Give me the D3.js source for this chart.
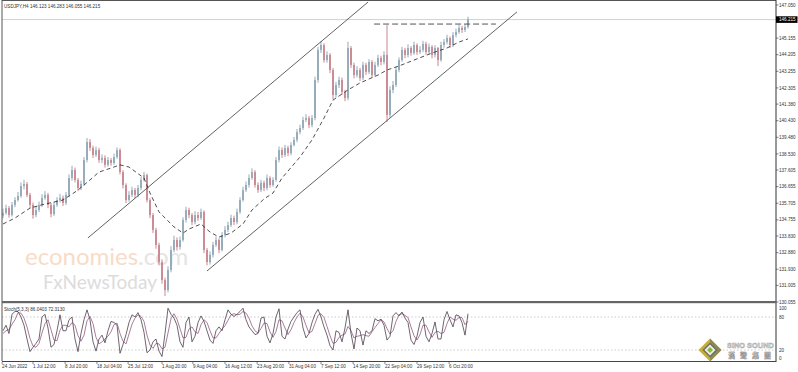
<!DOCTYPE html>
<html>
<head>
<meta charset="utf-8">
<script src="https://cdn.jsdelivr.net/npm/d3@7"></script>
<style>
body { margin: 0; background: #fff; }
svg { display: block; }
text { font-family: "Liberation Sans", Arial, sans-serif; }
</style>
</head>
<body>
<svg id="chart" width="798" height="372"></svg>
<script>
// USDJPY H4 - each candle here stands for a few H4 bars
var firstOpen = 135.00;
var closes = [
  135.15, 135.43, 135.03, 135.61, 135.89, 136.12, 136.69, 136.81, 136.18, 135.61,
  135.03, 135.32, 135.61, 136.01, 136.18, 135.61, 135.09, 135.61, 135.89, 136.01,
  135.72, 136.18, 137.15, 137.61, 137.04, 136.58, 136.81, 138.18, 139.21, 138.87,
  138.47, 138.75, 138.18, 138.30, 137.90, 138.18, 138.01, 138.35, 138.75, 137.49,
  136.75, 135.89, 136.18, 136.46, 136.18, 136.58, 137.04, 137.32, 135.89, 135.03,
  134.18, 133.32, 132.34, 131.31, 130.74, 131.89, 133.03, 133.60, 133.20, 133.60,
  134.75, 135.32, 135.03, 134.63, 135.03, 134.86, 135.21, 133.03, 132.34, 132.75,
  133.32, 133.60, 133.03, 133.89, 134.18, 134.46, 134.86, 134.63, 135.21, 135.89,
  136.46, 136.75, 137.15, 137.49, 136.75, 136.46, 136.87, 136.58, 137.15, 136.75,
  137.04, 138.18, 138.75, 138.47, 138.87, 138.58, 139.04, 139.33, 139.78, 140.01,
  140.47, 140.58, 140.18, 140.58, 142.76, 144.48, 144.76, 143.90, 144.19, 143.33,
  141.90, 142.47, 142.76, 142.07, 141.73, 144.59, 143.62, 143.04, 143.33, 142.87,
  143.62, 143.22, 143.79, 143.04, 143.62, 144.02, 143.79, 144.19, 140.76, 142.19,
  142.47, 143.33, 143.90, 144.48, 144.19, 144.59, 144.30, 144.76, 144.36, 144.48,
  144.82, 144.36, 144.65, 144.19, 144.59, 143.90, 144.76, 144.93, 145.16, 144.76,
  145.33, 145.51, 145.73, 145.62, 145.79, 146.22
];
var highs = [
  135.40, 135.62, 135.55, 135.78, 136.05, 136.35, 136.90, 137.05, 136.92, 136.30,
  135.75, 135.55, 135.80, 136.22, 136.40, 136.30, 135.72, 135.80, 136.05, 136.25,
  136.15, 136.35, 137.35, 137.85, 137.75, 137.15, 137.00, 138.35, 139.44, 139.38,
  139.00, 138.95, 138.88, 138.50, 138.45, 138.35, 138.30, 138.55, 138.90, 138.85,
  137.60, 136.85, 136.40, 136.65, 136.58, 136.75, 137.20, 137.50, 137.40, 136.00,
  135.15, 134.30, 133.45, 132.50, 131.45, 132.10, 133.25, 133.85, 133.75, 133.80,
  134.90, 135.50, 135.45, 135.15, 135.25, 135.20, 135.40, 135.30, 133.15, 132.95,
  133.50, 133.80, 133.70, 134.05, 134.40, 134.65, 135.05, 135.00, 135.40, 136.05,
  136.65, 136.95, 137.35, 137.70, 137.60, 136.90, 137.05, 137.00, 137.35, 137.25,
  137.20, 138.35, 138.95, 138.90, 139.05, 139.00, 139.20, 139.50, 139.95, 140.20,
  140.65, 140.80, 140.70, 140.75, 142.95, 144.65, 144.99, 144.85, 144.40, 144.30,
  143.45, 142.65, 142.95, 142.90, 142.20, 144.95, 144.70, 143.75, 143.55, 143.45,
  143.80, 143.75, 143.95, 143.90, 143.80, 144.20, 144.15, 144.40, 145.90, 142.40,
  142.70, 143.50, 144.05, 144.65, 144.60, 144.80, 144.70, 144.95, 144.85, 144.70,
  145.00, 144.95, 144.85, 144.75, 144.75, 144.65, 144.95, 145.10, 145.35, 145.25,
  145.50, 145.70, 145.90, 145.85, 145.95, 146.38
];
var lows = [
  134.85, 135.05, 134.88, 134.95, 135.48, 135.80, 136.02, 136.50, 136.05, 135.45,
  134.82, 134.90, 135.20, 135.50, 135.90, 135.42, 134.90, 134.98, 135.50, 135.75,
  135.55, 135.60, 136.05, 137.00, 136.90, 136.40, 136.45, 136.70, 138.05, 138.70,
  138.30, 138.35, 138.02, 138.00, 137.75, 137.80, 137.85, 137.90, 138.25, 137.35,
  136.55, 135.72, 135.80, 136.05, 136.00, 136.05, 136.45, 136.95, 135.75, 134.85,
  134.00, 133.10, 132.15, 131.10, 130.40, 130.60, 131.75, 132.90, 133.00, 133.05,
  133.50, 134.60, 134.85, 134.45, 134.50, 134.70, 134.75, 132.85, 132.15, 132.20,
  132.60, 133.20, 132.85, 132.95, 133.75, 134.05, 134.35, 134.45, 134.50, 135.10,
  135.80, 136.35, 136.60, 137.05, 136.60, 136.30, 136.35, 136.40, 136.45, 136.60,
  136.65, 136.95, 138.05, 138.30, 138.35, 138.40, 138.45, 138.95, 139.20, 139.65,
  139.90, 140.35, 140.00, 140.05, 140.45, 142.60, 144.30, 143.75, 143.75, 143.15,
  141.65, 141.75, 142.30, 141.90, 141.55, 141.60, 143.45, 142.85, 142.90, 142.70,
  142.75, 143.05, 143.10, 142.90, 142.95, 143.50, 143.60, 143.65, 140.36, 140.60,
  142.00, 142.35, 143.20, 143.80, 144.00, 144.05, 144.15, 144.20, 144.20, 144.25,
  144.35, 144.20, 144.25, 144.00, 144.05, 143.55, 143.80, 144.60, 144.80, 144.60,
  144.65, 145.20, 145.40, 145.45, 145.50, 145.70
];

// dashed moving average (candle index, price)
var maIdx = [0, 4, 9, 14, 20, 25, 29, 32, 36, 39, 42, 47, 49, 52, 57, 60, 62, 66, 69, 72,
  76, 80, 83, 87, 90, 93, 99, 103, 107, 110, 115, 119, 125, 128, 132, 137, 143, 148, 152, 155];
var maVals = [134.52, 134.86, 135.43, 135.66, 135.89, 136.46, 137.04, 137.49, 137.72, 137.90,
  137.78, 137.15, 136.29, 135.21, 134.35, 134.00, 134.23, 134.52, 134.06, 133.77,
  134.00, 134.52, 135.32, 135.95, 136.29, 137.15, 138.35, 139.33, 140.58, 141.61,
  142.19, 142.59, 143.04, 143.33, 143.56, 143.90, 144.30, 144.59, 144.93, 145.11];

// Stochastic(5,3,3)
var stochK = [
  55, 65, 50, 85, 90, 90, 80, 65, 40, 17,
  25, 32, 40, 80, 85, 60, 25, 30, 55, 84,
  55, 55, 75, 80, 40, 17, 50, 75, 93, 75,
  35, 18, 40, 47, 33, 55, 72, 70, 65, 14,
  30, 48, 70, 84, 80, 88, 75, 52, 15, 20,
  35, 40, 18, 8, 50, 96, 85, 78, 65, 35,
  25, 70, 80, 35, 45, 70, 82, 72, 55, 38,
  32, 55, 62, 55, 75, 93, 85, 81, 85, 90,
  96, 75, 62, 55, 48, 50, 78, 80, 45, 33,
  50, 80, 95, 45, 40, 58, 72, 80, 88, 93,
  60, 42, 50, 70, 85, 94, 80, 62, 47, 28,
  20, 55, 52, 35, 60, 93, 50, 22, 60, 55,
  29, 55, 50, 55, 77, 73, 76, 65, 38, 45,
  82, 88, 82, 89, 78, 70, 38, 30, 45, 70,
  80, 45, 35, 50, 71, 40, 40, 75, 90, 75,
  62, 84, 82, 70, 47, 86
];
var stochD = [
  50, 55, 57, 67, 75, 88, 87, 78, 62, 41,
  27, 25, 32, 51, 68, 75, 57, 38, 37, 56,
  65, 65, 62, 70, 65, 46, 36, 47, 73, 81,
  68, 43, 31, 35, 40, 45, 53, 66, 69, 50,
  36, 31, 49, 67, 78, 84, 81, 72, 47, 29,
  23, 32, 31, 22, 25, 51, 77, 86, 76, 59,
  42, 43, 58, 62, 53, 50, 66, 75, 70, 55,
  42, 42, 50, 58, 64, 74, 84, 86, 84, 85,
  90, 87, 78, 64, 55, 51, 59, 69, 68, 53,
  43, 54, 75, 73, 60, 48, 57, 70, 80, 87,
  80, 65, 51, 54, 68, 83, 86, 79, 63, 46,
  32, 34, 43, 47, 49, 63, 55, 42, 45, 46,
  48, 46, 45, 53, 61, 68, 75, 71, 59, 49,
  55, 72, 84, 86, 83, 79, 62, 46, 38, 48,
  65, 65, 53, 43, 52, 54, 50, 52, 68, 80,
  76, 74, 79, 79, 66, 72
];

// drawn objects: [candle index, price]
var channelUpper = [[28.3, 133.72], [121.7, 147.22]];
var channelLower = [[68.0, 131.83], [171.3, 146.65]];
var resistance = [[123.7, 145.96], [164.3, 145.96]];

var priceTicks = [147.050, 145.155, 144.205, 143.255, 142.305, 141.380, 140.430, 139.480,
  138.530, 137.605, 136.655, 135.705, 134.755, 133.830, 132.880, 131.930, 131.005, 130.055];
var lastPrice = 146.215;
var stochTicks = [100, 80, 20, 0];
var timeLabels = ['24 Jun 2022', '1 Jul 12:00', '8 Jul 20:00', '18 Jul 04:00', '25 Jul 12:00',
  '1 Aug 20:00', '9 Aug 04:00', '16 Aug 12:00', '23 Aug 20:00', '31 Aug 04:00', '7 Sep 12:00',
  '14 Sep 20:00', '22 Sep 04:00', '29 Sep 12:00', '6 Oct 20:00'];
var timeIdx = [-0.3, 10, 20.7, 31.3, 41.7, 53, 63.3, 74, 84.7, 95.3, 106, 116.7, 127.3, 138, 148.7];

var svg = d3.select('#chart');

// panel geometry
var left = 2, right = 776;
var mainTop = 1, mainBottom = 301, stTop = 303, stBottom = 361;

var xScale = d3.scaleLinear().domain([0, 155]).range([3, 468]);
var yScale = d3.scaleLinear().domain([130.055, 147.050]).range([302, 5]);
var sScale = d3.scaleLinear().domain([0, 100]).range([361, 306]);

var defs = svg.append('defs');
defs.append('clipPath').attr('id', 'mainClip')
  .append('rect').attr('x', left).attr('y', mainTop).attr('width', right - left).attr('height', mainBottom - mainTop);
defs.append('clipPath').attr('id', 'stClip')
  .append('rect').attr('x', left).attr('y', stTop).attr('width', right - left).attr('height', stBottom - stTop);

// watermark
var wm = svg.append('g').attr('class', 'watermark');
var t1 = wm.append('text').attr('x', 25).attr('y', 265)
  .style('font-size', '24px').style('font-family', 'Lato, "Liberation Sans", sans-serif');
t1.append('tspan').attr('fill', '#f7dcc8').text('economies');
t1.append('tspan').attr('fill', '#e4e4e4').text('.com');
wm.append('text').attr('x', 43).attr('y', 289)
  .style('font-size', '19px').style('font-family', 'Lato, "Liberation Sans", sans-serif')
  .attr('fill', '#dcdcdc').text('FxNewsToday');

// current price line
svg.append('line')
  .attr('x1', left).attr('x2', right)
  .attr('y1', yScale(lastPrice)).attr('y2', yScale(lastPrice))
  .attr('stroke', '#c9d3d8').attr('stroke-width', 1);

var mainG = svg.append('g').attr('clip-path', 'url(#mainClip)');

// candles
var candles = closes.map(function (c, i) {
  return { i: i, o: i === 0 ? firstOpen : closes[i - 1], h: highs[i], l: lows[i], c: c };
});
var bullColor = '#93a9b8', bearColor = '#c8878f';

mainG.selectAll('.wick')
  .data(candles)
  .enter()
  .append('line')
  .attr('class', 'wick')
  .attr('x1', function (d) { return xScale(d.i); })
  .attr('x2', function (d) { return xScale(d.i); })
  .attr('y1', function (d) { return yScale(d.h); })
  .attr('y2', function (d) { return yScale(d.l); })
  .attr('stroke', function (d) { return d.c >= d.o ? bullColor : bearColor; })
  .attr('stroke-width', 1);

mainG.selectAll('.body')
  .data(candles)
  .enter()
  .append('rect')
  .attr('class', 'body')
  .attr('x', function (d) { return xScale(d.i) - 0.9; })
  .attr('width', 1.8)
  .attr('y', function (d) { return yScale(Math.max(d.o, d.c)); })
  .attr('height', function (d) { return Math.max(0.8, Math.abs(yScale(d.o) - yScale(d.c))); })
  .attr('fill', function (d) { return d.c >= d.o ? bullColor : bearColor; });

// moving average
var maLine = d3.line()
  .x(function (d) { return xScale(d[0]); })
  .y(function (d) { return yScale(d[1]); });
mainG.append('path')
  .datum(d3.zip(maIdx, maVals))
  .attr('d', maLine)
  .attr('fill', 'none')
  .attr('stroke', '#222')
  .attr('stroke-width', 0.8)
  .attr('stroke-dasharray', '4,3');

// channel and resistance
[channelUpper, channelLower].forEach(function (seg) {
  mainG.append('path')
    .datum(seg)
    .attr('d', maLine)
    .attr('fill', 'none')
    .attr('stroke', '#3a3a3a')
    .attr('stroke-width', 0.8);
});
mainG.append('path')
  .datum(resistance)
  .attr('d', maLine)
  .attr('fill', 'none')
  .attr('stroke', '#555')
  .attr('stroke-width', 1)
  .attr('stroke-dasharray', '6,3');

// stochastic levels
stochTicks.filter(function (v) { return v === 80 || v === 20; }).forEach(function (v) {
  svg.append('line')
    .attr('x1', left).attr('x2', right)
    .attr('y1', sScale(v)).attr('y2', sScale(v))
    .attr('stroke', '#aaa').attr('stroke-width', 0.6)
    .attr('stroke-dasharray', '1.5,2');
});

var stG = svg.append('g').attr('clip-path', 'url(#stClip)');
var stLine = d3.line()
  .x(function (d, i) { return xScale(i); })
  .y(function (d) { return sScale(d); });
stG.append('path')
  .datum(stochD)
  .attr('d', stLine)
  .attr('fill', 'none')
  .attr('stroke', '#a77d9c')
  .attr('stroke-width', 1);
stG.append('path')
  .datum(stochK)
  .attr('d', stLine)
  .attr('fill', 'none')
  .attr('stroke', '#4a3f4a')
  .attr('stroke-width', 0.8);

// frame
svg.append('line').attr('x1', left).attr('x2', right).attr('y1', 0.5).attr('y2', 0.5)
  .attr('stroke', '#555').attr('stroke-width', 1);
svg.append('line').attr('x1', left).attr('x2', left).attr('y1', 0).attr('y2', stBottom)
  .attr('stroke', '#555').attr('stroke-width', 1);
svg.append('line').attr('x1', right).attr('x2', right).attr('y1', 0).attr('y2', stBottom + 1)
  .attr('stroke', '#333').attr('stroke-width', 1);
svg.append('rect').attr('x', left).attr('y', mainBottom).attr('width', right - left).attr('height', 2.2)
  .attr('fill', '#666');
svg.append('line').attr('x1', left).attr('x2', right).attr('y1', stBottom + 0.5).attr('y2', stBottom + 0.5)
  .attr('stroke', '#444').attr('stroke-width', 1);

// right price axis
var axisG = svg.append('g').style('font-size', '4.6px').attr('fill', '#333');
priceTicks.forEach(function (p) {
  axisG.append('line')
    .attr('x1', right).attr('x2', right + 2.5)
    .attr('y1', yScale(p)).attr('y2', yScale(p))
    .attr('stroke', '#333').attr('stroke-width', 0.6);
  axisG.append('text')
    .attr('x', right + 3).attr('y', yScale(p)).attr('dy', '0.35em')
    .text(d3.format('.3f')(p));
});
axisG.append('rect')
  .attr('x', right).attr('y', yScale(lastPrice) - 3.3)
  .attr('width', 21.5).attr('height', 6.6).attr('fill', '#000');
axisG.append('text')
  .attr('x', right + 3).attr('y', yScale(lastPrice)).attr('dy', '0.35em')
  .attr('fill', '#fff').text(d3.format('.3f')(lastPrice));

stochTicks.forEach(function (v) {
  var yy = Math.max(308, Math.min(358, sScale(v)));
  axisG.append('text')
    .attr('x', right + 3).attr('y', yy).attr('dy', '0.35em')
    .text(v);
});

// time axis
timeLabels.forEach(function (lab, k) {
  var xx = xScale(timeIdx[k]);
  axisG.append('line')
    .attr('x1', xx).attr('x2', xx).attr('y1', stBottom + 1).attr('y2', stBottom + 3)
    .attr('stroke', '#333').attr('stroke-width', 0.6);
  axisG.append('text')
    .attr('x', Math.max(1, xx)).attr('y', 368)
    .text(lab);
});

// titles
axisG.append('text').attr('x', 4).attr('y', 7.5)
  .text('USDJPY,H4  146.123 146.283 146.055 146.215');
axisG.append('text').attr('x', 4).attr('y', 311)
  .text('Stoch(5,3,3) 86.0403 72.3130');

// SINO SOUND logo, kept left of the price scale
var logo = svg.append('g');
var cx = 710, cy = 350;
function diamond(r) {
  return [[cx, cy - r], [cx + r, cy], [cx, cy + r], [cx - r, cy]].join(' ');
}
logo.append('polygon').attr('points', diamond(11.5)).attr('fill', '#c7ae34');
logo.append('polygon').attr('points', [[cx, cy - 11.5], [cx + 11.5, cy], [cx, cy + 11.5]].join(' '))
  .attr('fill', '#8f8a55');
logo.append('polygon').attr('points', diamond(7.5)).attr('fill', '#6f6f66');
logo.append('polygon').attr('points', diamond(5.5)).attr('fill', '#efefe6');
logo.append('polygon').attr('points', diamond(3)).attr('fill', '#86b83a');
logo.append('text').attr('x', 727).attr('y', 347.5)
  .style('font-size', '7.4px').style('font-weight', 'bold')
  .attr('fill', '#fff').attr('stroke', '#9a9a9a').attr('stroke-width', 0.5)
  .text('SINO SOUND');
logo.append('text').attr('x', 728).attr('y', 357.5)
  .style('font-size', '7px').style('font-family', '"Noto Sans CJK TC", sans-serif').style('font-weight', 'bold')
  .attr('fill', '#fff').attr('stroke', '#9a9a9a').attr('stroke-width', 0.5)
  .attr('letter-spacing', '5')
  .text('漢聲集團');
</script>
</body>
</html>
